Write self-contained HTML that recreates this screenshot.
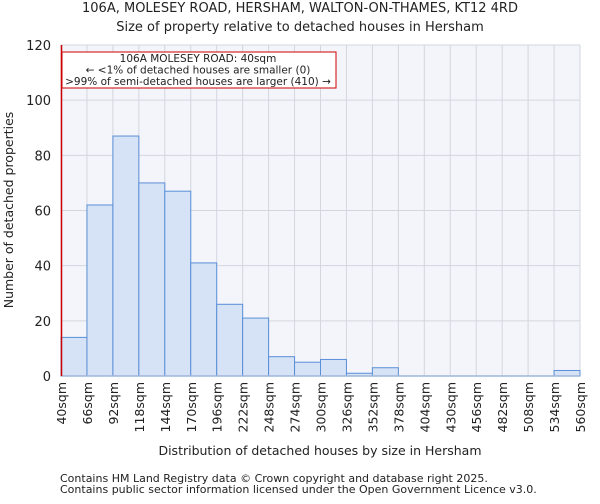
<!DOCTYPE html>
<html><head><meta charset="utf-8"><style>
body{margin:0;background:#fff;font-family:"DejaVu Sans","Liberation Sans",sans-serif;}
svg text{font-family:"DejaVu Sans","Liberation Sans",sans-serif;fill:#222;}
</style></head><body>
<svg id="chart" width="600" height="500" xmlns="http://www.w3.org/2000/svg">
<text x="300" y="12" text-anchor="middle" font-size="13">106A, MOLESEY ROAD, HERSHAM, WALTON-ON-THAMES, KT12 4RD</text>
<text x="300" y="31" text-anchor="middle" font-size="13">Size of property relative to detached houses in Hersham</text>
<rect x="61" y="45" width="519" height="331" fill="#f3f5fb"/>
<g id="grid"></g><g id="bars"></g><g id="axes"></g>
<line x1="61.5" y1="45" x2="61.5" y2="376" stroke="#cc0000" stroke-width="1.5"/>
<g>
<rect x="62" y="52" width="274" height="36" fill="#fff" stroke="#cc0000" stroke-width="1"/>
<text x="198" y="62" text-anchor="middle" font-size="10.5">106A MOLESEY ROAD: 40sqm</text>
<text x="198" y="73.5" text-anchor="middle" font-size="10.5">← &lt;1% of detached houses are smaller (0)</text>
<text x="198" y="85" text-anchor="middle" font-size="10.5">&gt;99% of semi-detached houses are larger (410) →</text>
</g>
<text transform="translate(13,210) rotate(-90)" text-anchor="middle" font-size="12.5">Number of detached properties</text>
<text x="320" y="455" text-anchor="middle" font-size="12.5">Distribution of detached houses by size in Hersham</text>
<text x="60" y="482" font-size="11" fill="#555">Contains HM Land Registry data © Crown copyright and database right 2025.</text>
<text x="60" y="493" font-size="11" fill="#555">Contains public sector information licensed under the Open Government Licence v3.0.</text>
</svg>
<script>
const categories=["40sqm","66sqm","92sqm","118sqm","144sqm","170sqm","196sqm","222sqm","248sqm","274sqm","300sqm","326sqm","352sqm","378sqm","404sqm","430sqm","456sqm","482sqm","508sqm","534sqm","560sqm"];
const counts=[14,62,87,70,67,41,26,21,7,5,6,1,3,0,0,0,0,0,0,2];
const yTicks=[0,20,40,60,80,100,120];
const X0=61,X1=580,Y0=376,Y1=45,YMAX=120;
const nb=counts.length;
const x=i=>X0+(X1-X0)*i/nb;
const y=v=>Y0-(Y0-Y1)*v/YMAX;
const NS="http://www.w3.org/2000/svg";
function mk(parent,tag,attrs){const e=document.createElementNS(NS,tag);for(const k in attrs)e.setAttribute(k,attrs[k]);parent.appendChild(e);return e;}
const grid=document.getElementById('grid'),bars=document.getElementById('bars'),axes=document.getElementById('axes');
yTicks.forEach(t=>{
 const l=mk(grid,'line',{x1:X0,x2:X1,y1:y(t),y2:y(t),stroke:'#d3d6de','stroke-width':1});
 
 
 const tx=mk(axes,'text',{x:X0-10,y:y(t)+5,'text-anchor':'end','font-size':13});
 tx.textContent=t;
 
 
});
categories.forEach((c,i)=>{
 const gl=mk(grid,'line',{x1:x(i),x2:x(i),y1:Y1,y2:Y0,stroke:'#d3d6de','stroke-width':1});
 
 
 const tx=mk(axes,'text',{transform:`translate(${x(i)+5},${Y0+6}) rotate(-90)`,'text-anchor':'end','font-size':12.5});
 tx.textContent=c;
 
 
});
counts.forEach((v,i)=>{
 if(v<=0)return;
 const r=mk(bars,'rect',{x:x(i),y:y(v),width:x(i+1)-x(i),height:Y0-y(v),fill:'#d6e2f5',stroke:'#5a8fd8','stroke-width':1});
 
 
});
const base=mk(axes,'line',{x1:X0,x2:X1,y1:Y0,y2:Y0,stroke:'#9fb5d8','stroke-width':1.5});


</script>
</body></html>
